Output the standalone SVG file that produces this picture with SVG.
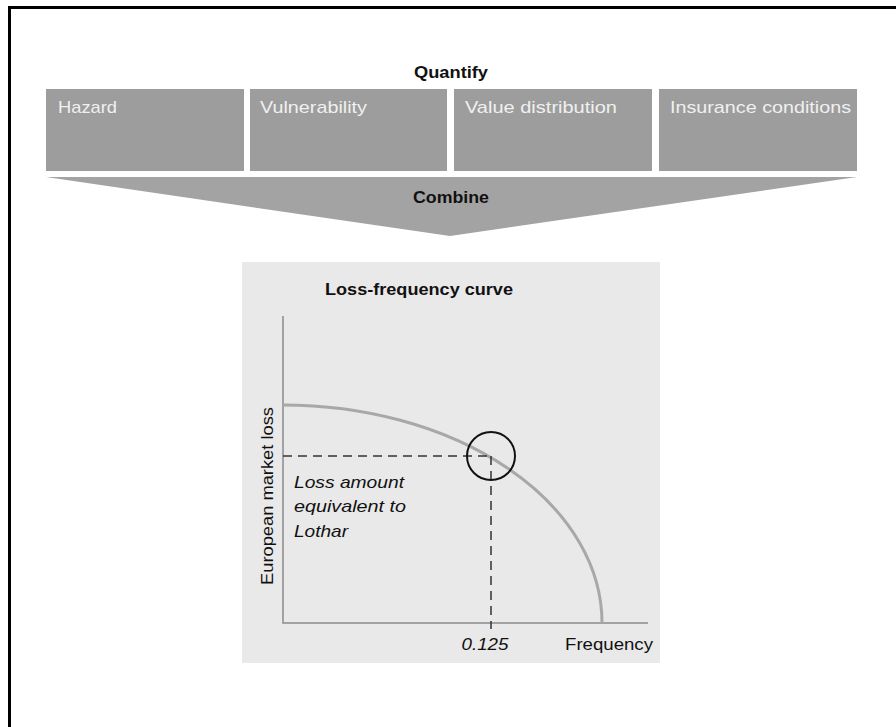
<svg xmlns="http://www.w3.org/2000/svg" width="896" height="727" viewBox="0 0 896 727">
  <style>
    .lbl { font-family: "Liberation Sans", Arial, sans-serif; }
    .head { font-size: 16.5px; font-weight: bold; fill: #111; text-anchor: middle; }
    .box { fill: #9d9d9d; }
    .boxtxt { font-size: 17px; fill: #f0f0f0; }
    .axis { stroke: #8a8a8a; stroke-width: 1.5; fill: none; }
    .curve { stroke: #a8a8a8; stroke-width: 3; fill: none; }
    .dash { stroke: #333; stroke-width: 1.5; stroke-dasharray: 9 6; fill: none; }
    .note { font-size: 17px; font-style: italic; fill: #111; }
    .axtxt { font-size: 17px; fill: #111; }
  </style>

  <!-- page -->
  <rect x="0" y="0" width="896" height="727" fill="#ffffff"/>
  <path d="M9.5,727 V7.5 H896" fill="none" stroke="#000" stroke-width="3"/>

  <!-- quantify row -->
  <text class="lbl head" x="451" y="78" textLength="74" lengthAdjust="spacingAndGlyphs">Quantify</text>
  <g id="hazard">
    <rect class="box" x="46" y="89" width="198" height="82"/>
    <text class="lbl boxtxt" x="58" y="113" textLength="59" lengthAdjust="spacingAndGlyphs">Hazard</text>
  </g>
  <g id="vulnerability">
    <rect class="box" x="250" y="89" width="197" height="82"/>
    <text class="lbl boxtxt" x="260" y="113" textLength="107" lengthAdjust="spacingAndGlyphs">Vulnerability</text>
  </g>
  <g id="value-distribution">
    <rect class="box" x="454" y="89" width="198" height="82"/>
    <text class="lbl boxtxt" x="465" y="113" textLength="152" lengthAdjust="spacingAndGlyphs">Value distribution</text>
  </g>
  <g id="insurance-conditions">
    <rect class="box" x="659" y="89" width="198" height="82"/>
    <text class="lbl boxtxt" x="670" y="113" textLength="181" lengthAdjust="spacingAndGlyphs">Insurance conditions</text>
  </g>

  <!-- combine funnel -->
  <g id="combine">
    <polygon points="46,177 857,177 450,236" fill="#a3a3a3"/>
    <text class="lbl head" x="451" y="203" textLength="76" lengthAdjust="spacingAndGlyphs">Combine</text>
  </g>

  <!-- loss-frequency chart -->
  <g id="chart">
    <rect x="242" y="262" width="418" height="401" fill="#e9e9e9"/>
    <text class="lbl" x="325" y="295" font-size="17" font-weight="bold" fill="#111" textLength="188" lengthAdjust="spacingAndGlyphs">Loss-frequency curve</text>

    <path class="axis" d="M283,316 V623 H648"/>
    <path class="curve" d="M283,405 A319,218 0 0 1 602,623"/>

    <g id="connectors">
      <path class="dash" d="M283,456 H491"/>
      <path class="dash" d="M491,456 V629"/>
    </g>
    <circle cx="491" cy="456" r="24" fill="none" stroke="#111" stroke-width="2"/>

    <text class="lbl note" x="294" y="488" textLength="110" lengthAdjust="spacingAndGlyphs">Loss amount</text>
    <text class="lbl note" x="294" y="512" textLength="112" lengthAdjust="spacingAndGlyphs">equivalent to</text>
    <text class="lbl note" x="294" y="537" textLength="54" lengthAdjust="spacingAndGlyphs">Lothar</text>

    <text class="lbl axtxt" transform="translate(273,496) rotate(-90)" text-anchor="middle" textLength="178" lengthAdjust="spacingAndGlyphs">European market loss</text>
    <text class="lbl note" x="485" y="650" text-anchor="middle" textLength="47" lengthAdjust="spacingAndGlyphs">0.125</text>
    <text class="lbl axtxt" x="565" y="650" textLength="88" lengthAdjust="spacingAndGlyphs">Frequency</text>
  </g>
</svg>
